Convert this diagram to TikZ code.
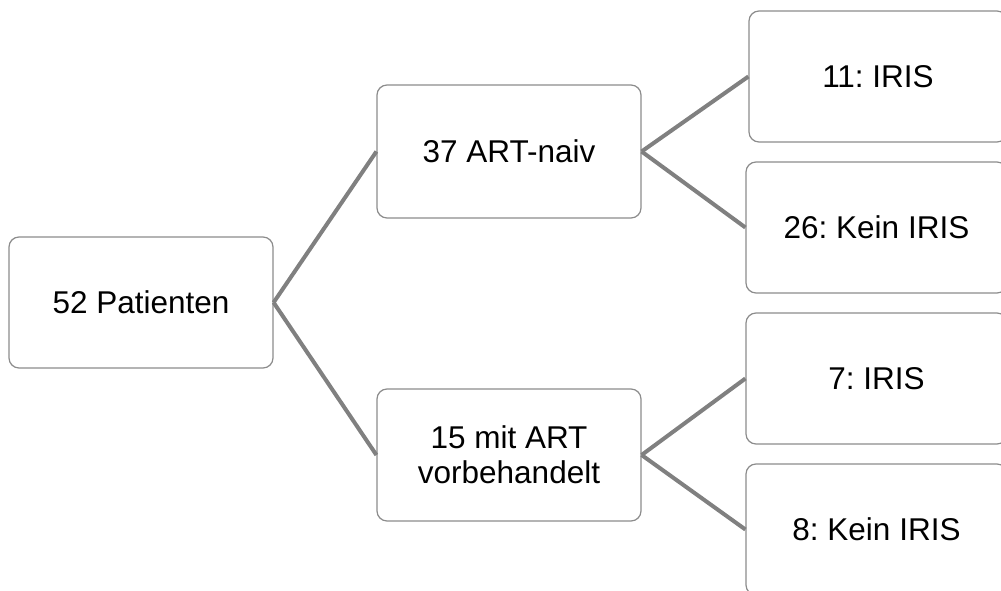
\documentclass[tikz,border=0pt]{standalone}
\usepackage{fontspec}
\setmainfont{Liberation Sans}
\frenchspacing
\begin{document}
\begin{tikzpicture}[x=1pt,y=-1pt,
  box/.style={draw=black!45, line width=1.2pt, rounded corners=10pt, fill=white,
    inner sep=0pt, align=center, font=\fontsize{31.5}{35}\selectfont},
  link/.style={draw=black!50, line width=4pt}]
\clip (0,0) rectangle (1001,591);
\node[box, minimum width=264pt, minimum height=131pt] (p) at (141,302.5) {52 Patienten};
\node[box, minimum width=264pt, minimum height=133pt] (n) at (509,151.5) {37 ART-naiv};
\node[box, minimum width=264pt, minimum height=132pt] (v) at (509,455) {15 mit ART\\vorbehandelt};
\node[box, minimum width=258pt, minimum height=131pt] (a) at (878,76.5) {11: IRIS};
\node[box, minimum width=261pt, minimum height=131pt] (b) at (876.5,227.5) {26: Kein IRIS};
\node[box, minimum width=261pt, minimum height=131pt] (c) at (876.5,378.5) {7: IRIS};
\node[box, minimum width=261pt, minimum height=131pt] (d) at (876.5,529.5) {8: Kein IRIS};
\draw[link] (p.east) -- (n.west);
\draw[link] (p.east) -- (v.west);
\draw[link] (n.east) -- (a.west);
\draw[link] (n.east) -- (b.west);
\draw[link] (v.east) -- (c.west);
\draw[link] (v.east) -- (d.west);
\end{tikzpicture}
\end{document}
